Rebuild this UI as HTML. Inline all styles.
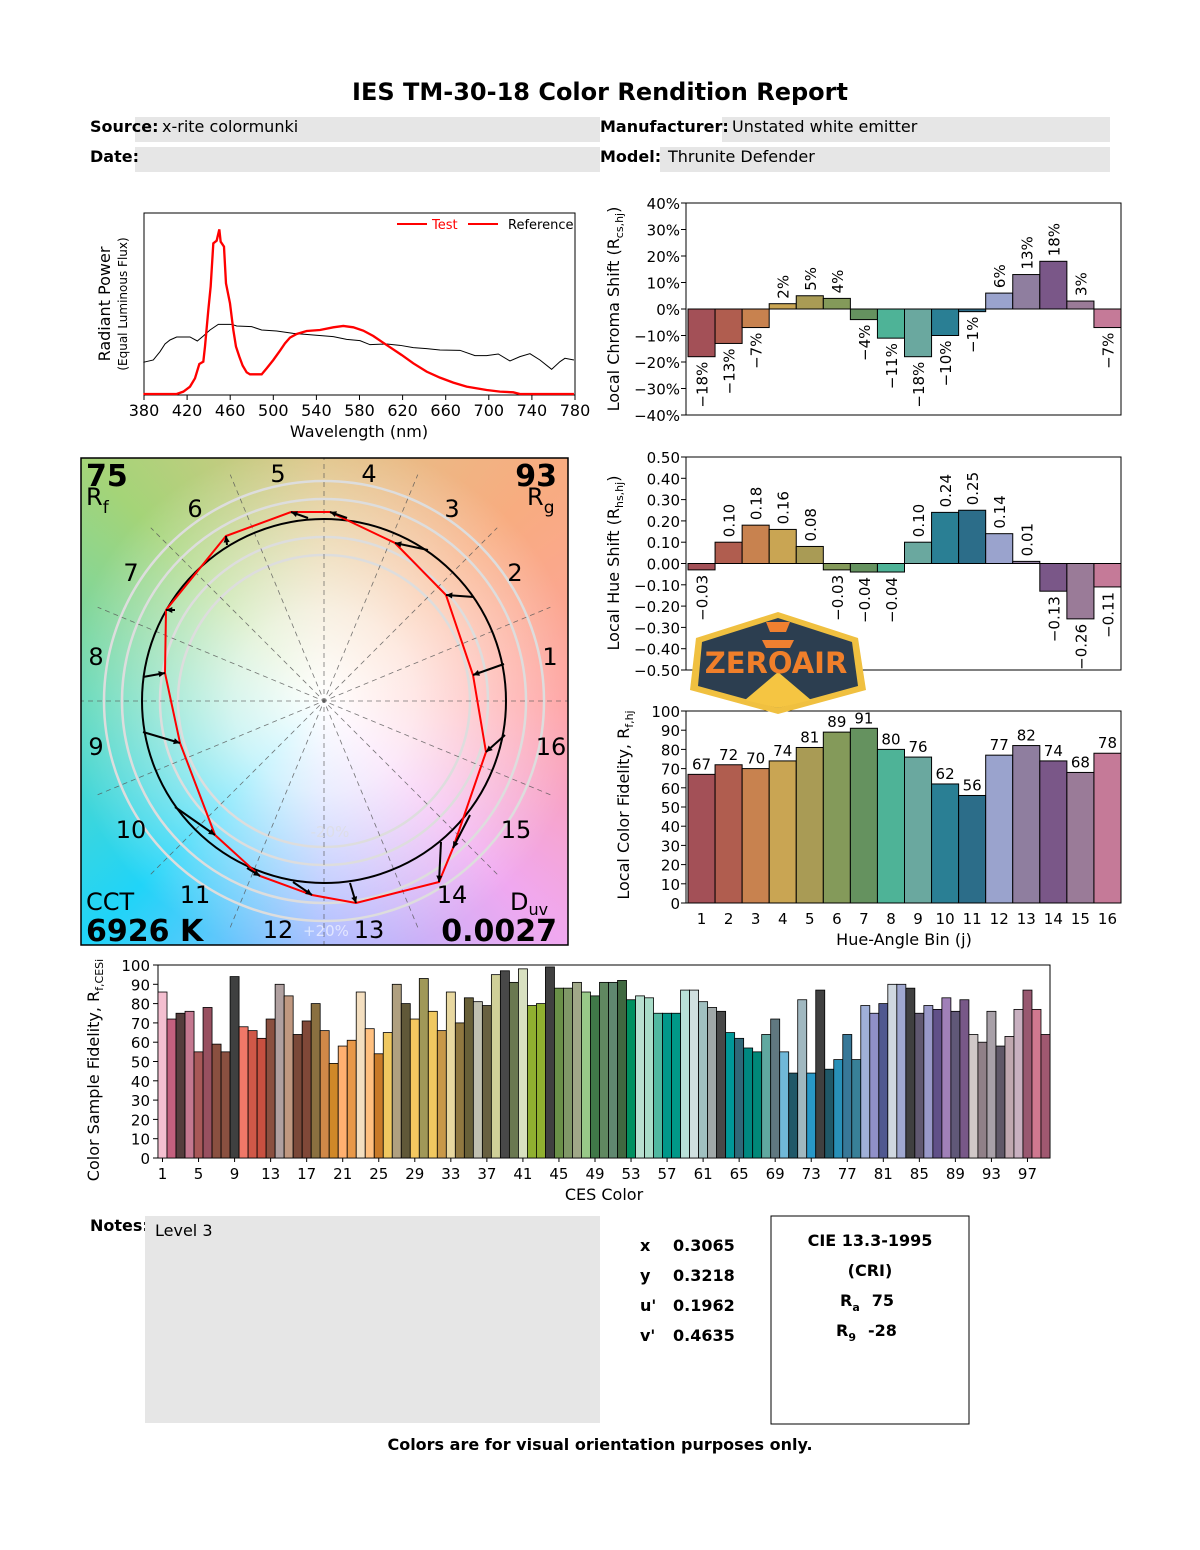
<!DOCTYPE html>
<html><head><meta charset="utf-8"><style>
body{margin:0;background:#fff;width:1200px;height:1550px;position:relative;overflow:hidden;font-family:"DejaVu Sans","Liberation Sans",sans-serif;color:#000}
</style></head><body>
<svg id="s" width="1200" height="1550" xmlns="http://www.w3.org/2000/svg" style="position:absolute;left:0;top:0;font-family:'DejaVu Sans','Liberation Sans',sans-serif">
<defs>
<clipPath id="vc"><rect x="81" y="458" width="487" height="487"/></clipPath>
<radialGradient id="wg" cx="324" cy="701" r="260" gradientUnits="userSpaceOnUse">
<stop offset="0" stop-color="#fff" stop-opacity="1"/><stop offset="0.35" stop-color="#fff" stop-opacity="0.75"/><stop offset="1" stop-color="#fff" stop-opacity="0"/></radialGradient>
</defs>
<text x="600" y="100" font-size="24" font-weight="bold" text-anchor="middle">IES TM-30-18 Color Rendition Report</text>
<rect x="135" y="117" width="465" height="25" fill="#e6e6e6"/>
<rect x="722" y="117" width="388" height="25" fill="#e6e6e6"/>
<rect x="135" y="147" width="465" height="25" fill="#e6e6e6"/>
<rect x="660" y="147" width="450" height="25" fill="#e6e6e6"/>
<text x="90" y="132" font-size="16" font-weight="bold">Source:</text>
<text x="162" y="132" font-size="16">x-rite colormunki</text>
<text x="600" y="132" font-size="16" font-weight="bold">Manufacturer:</text>
<text x="732" y="132" font-size="16">Unstated white emitter</text>
<text x="90" y="162" font-size="16" font-weight="bold">Date:</text>
<text x="600" y="162" font-size="16" font-weight="bold">Model:</text>
<text x="668" y="162" font-size="16">Thrunite Defender</text>

<!-- spectrum -->
<rect x="144" y="213" width="431" height="182" fill="none" stroke="#000" stroke-width="1"/>
<g transform="translate(80,200) scale(0.3333)" fill="none">
<path stroke="#000" stroke-width="3" d="M190,487 L220,480 240,455 255,432 270,420 290,411 330,411 352,423 370,408 390,390 415,373 455,373 470,378 515,380 545,390 590,393 640,400 700,405 760,410 800,418 840,422 870,434 920,432 960,436 1000,443 1040,446 1080,450 1140,451 1185,467 1220,467 1255,462 1290,483 1320,470 1350,461 1380,480 1415,508 1440,485 1455,475 1482,480"/>
<path stroke="#f00" stroke-width="7" d="M190,582 L290,582 310,575 330,560 345,535 358,492 370,485 375,440 385,330 392,260 400,130 410,122 418,88 422,125 432,140 438,250 450,310 460,390 468,440 478,470 488,497 500,517 510,523 545,523 560,505 580,480 600,452 615,430 630,413 650,402 680,393 720,390 760,382 790,378 820,382 850,392 880,408 905,425 935,445 965,465 1000,490 1040,515 1080,533 1120,548 1160,560 1220,570 1260,575 1300,577 1320,582 1482,582"/>
</g>
<line x1="397" y1="224" x2="427" y2="224" stroke="#f00" stroke-width="2"/>
<text x="432" y="229" font-size="13" fill="#f00">Test</text>
<line x1="468" y1="224" x2="498" y2="224" stroke="#f00" stroke-width="2"/>
<text x="508" y="229" font-size="13">Reference</text>
<g id="specx" font-size="16" text-anchor="middle"></g>
<text x="359" y="437" font-size="16" text-anchor="middle">Wavelength (nm)</text>
<text transform="translate(110,304) rotate(-90)" font-size="16" text-anchor="middle">Radiant Power</text>
<text transform="translate(127,304) rotate(-90)" font-size="12" text-anchor="middle">(Equal Luminous Flux)</text>

<!-- vector graphic -->
<foreignObject x="81" y="458" width="487" height="487"><div xmlns="http://www.w3.org/1999/xhtml" style="width:487px;height:487px;background:conic-gradient(from 0deg at 50% 50%,#e0c488 0deg,#f8ac80 45deg,#ffa0a0 90deg,#f0a8f0 135deg,#a8b8ff 180deg,#20d4f8 225deg,#60d8b8 270deg,#a4d478 315deg,#e0c488 360deg)"></div></foreignObject>
<rect x="81" y="458" width="487" height="487" fill="url(#wg)"/>
<g clip-path="url(#vc)" id="vg"></g>
<rect x="81" y="458" width="487" height="487" fill="none" stroke="#000" stroke-width="1.5"/>
<g font-size="24" text-anchor="middle" id="vlabels"></g>
<text x="86" y="486" font-size="30" font-weight="bold">75</text>
<text x="86" y="505" font-size="24">R<tspan font-size="17" dy="8">f</tspan></text>
<text x="557" y="486" font-size="30" font-weight="bold" text-anchor="end">93</text>
<text x="527" y="505" font-size="24">R<tspan font-size="17" dy="8">g</tspan></text>
<text x="86" y="910" font-size="24">CCT</text>
<text x="86" y="941" font-size="30" font-weight="bold">6926 K</text>
<text x="510" y="910" font-size="24">D<tspan font-size="16" dy="5">uv</tspan></text>
<text x="557" y="941" font-size="30" font-weight="bold" text-anchor="end">0.0027</text>
<text x="326" y="936" font-size="15" fill="#fff" fill-opacity="0.6" text-anchor="middle">+20%</text>
<text x="330" y="837" font-size="15" fill="#ddd" fill-opacity="0.7" text-anchor="middle">-20%</text>

<g id="charts"></g>

<!-- logo -->
<g>
<path d="M778,612 L858,638 L866,690 L778,714 L690,690 L696,638 Z" fill="#f0c040"/>
<path d="M778,618 L852,642 L858,686 L778,708 L698,686 L702,642 Z" fill="#2c3e50"/>
<path d="M745,700 L778,672 L811,700 L778,708 Z" fill="#f5c542"/>
<path d="M766,622 L790,622 L786,632 L770,632 Z M762,640 L794,640 L790,648 L766,648 Z" fill="#f08030"/>
<text x="776" y="673" font-size="29" font-weight="bold" fill="#f07f2a" text-anchor="middle" font-family="'DejaVu Sans',sans-serif">ZEROAIR</text>
</g>

<!-- notes -->
<text x="90" y="1231" font-size="16" font-weight="bold">Notes:</text>
<rect x="145" y="1216" width="455" height="207" fill="#e6e6e6"/>
<text x="155" y="1236" font-size="16">Level 3</text>
<g font-size="16" font-weight="bold">
<text x="640" y="1251">x</text><text x="673" y="1251">0.3065</text>
<text x="640" y="1281">y</text><text x="673" y="1281">0.3218</text>
<text x="640" y="1311">u'</text><text x="673" y="1311">0.1962</text>
<text x="640" y="1341">v'</text><text x="673" y="1341">0.4635</text>
</g>
<rect x="771" y="1216" width="198" height="208" fill="none" stroke="#000" stroke-width="1"/>
<g font-size="16" font-weight="bold" text-anchor="middle">
<text x="870" y="1246">CIE 13.3-1995</text>
<text x="870" y="1276">(CRI)</text>
</g>
<text x="840" y="1306" font-size="16" font-weight="bold">R<tspan font-size="11" dy="5">a</tspan><tspan dy="-5" dx="12">75</tspan></text>
<text x="836" y="1336" font-size="16" font-weight="bold">R<tspan font-size="11" dy="5">9</tspan><tspan dy="-5" dx="12">-28</tspan></text>
<text x="600" y="1450" font-size="16" font-weight="bold" text-anchor="middle">Colors are for visual orientation purposes only.</text>
</svg>
<script>
var NS="http://www.w3.org/2000/svg";
function el(p,t,a,txt){var e=document.createElementNS(NS,t);for(var k in a)e.setAttribute(k,a[k]);if(txt!==undefined)e.textContent=txt;p.appendChild(e);return e;}
var sx=document.getElementById('specx');
for(var nm=380;nm<=780;nm+=40){var x=144+(nm-380)*431/400;el(sx,'line',{x1:x,y1:395,x2:x,y2:400,stroke:'#000'});el(sx,'text',{x:x,y:416},''+nm);}
// vector graphic
var vg=document.getElementById('vg'),cx=324,cy=701;
[146,164,202,220].forEach(function(r){el(vg,'circle',{cx:cx,cy:cy,r:r,fill:'none',stroke:'#ddd','stroke-width':2.5});});
for(var i=0;i<8;i++){var a=i*22.5*Math.PI/180;var dx=Math.cos(a)*245,dy=Math.sin(a)*245;el(vg,'line',{x1:cx-dx,y1:cy+dy,x2:cx+dx,y2:cy-dy,stroke:'#555','stroke-width':0.8,'stroke-dasharray':'5,4','stroke-opacity':0.8});}
var ref=[[504,664],[474,597],[428,550],[347,518],[308,518],[227,545],[175,610],[143,677],[143,732],[175,807],[247,868],[293,882],[350,883],[441,842],[470,815],[505,735]];
var tst=[[473,675],[446,595],[395,543],[330,512],[291,512],[226,536],[166,610],[165,673],[180,743],[215,835],[260,876],[312,895],[356,903],[439,882],[453,848],[486,752]];
el(vg,'circle',{cx:cx,cy:cy,r:182,fill:'none',stroke:'#000','stroke-width':2});
el(vg,'polygon',{points:tst.map(function(p){return p.join(',')}).join(' '),fill:'none',stroke:'#f00','stroke-width':2});
for(var i=0;i<16;i++){var a=ref[i],b=tst[i];el(vg,'line',{x1:a[0],y1:a[1],x2:b[0],y2:b[1],stroke:'#000','stroke-width':2});
var ang=Math.atan2(b[1]-a[1],b[0]-a[0]),L=7;
var p1=[b[0]-L*Math.cos(ang-0.45),b[1]-L*Math.sin(ang-0.45)],p2=[b[0]-L*Math.cos(ang+0.45),b[1]-L*Math.sin(ang+0.45)];
el(vg,'polygon',{points:b.join(',')+' '+p1.join(',')+' '+p2.join(','),fill:'#000'});}
var vl=document.getElementById('vlabels');
var lp=[[550,665],[515,581],[452,517],[369,482],[278,482],[195,517],[131,581],[96,665],[96,755],[131,838],[195,903],[278,938],[369,938],[452,903],[516,838],[551,755]];
lp.forEach(function(p,i){el(vl,'text',{x:p[0],y:p[1]},''+(i+1));});
// bin charts
var ch=document.getElementById('charts');
var bc=['#a35057','#b05d4f','#c8824f','#c9a553','#a99b55','#849a5a','#65925f','#4eb397','#6aa89f','#2a7f94','#2c6d89','#9aa3cd','#8f7e9f','#7a5788','#9a7b98','#c57a98'];
var X0=688,X1=1121,BW=(X1-X0)/16;
function binChart(top,bot,zero,scale,vals,labels,ticks,tickfmt,rot,ylabel,ylabY){
 el(ch,'rect',{x:X0-2,y:top,width:X1-X0+2,height:bot-top,fill:'none',stroke:'#000','stroke-width':1});
 ticks.forEach(function(t){var y=zero-t*scale;el(ch,'line',{x1:X0-7,y1:y,x2:X0-2,y2:y,stroke:'#000'});el(ch,'text',{x:X0-8,y:y+6,'font-size':15,'text-anchor':'end'},tickfmt(t));});
 vals.forEach(function(v,i){var x=X0+i*BW,y=zero-v*scale;var yt=Math.min(y,zero),h=Math.abs(v*scale);
  el(ch,'rect',{x:x,y:yt,width:BW,height:Math.max(h,1),fill:bc[i],stroke:'#000','stroke-width':1});
  var cxm=x+BW/2;
  if(rot){ if(v>=0){el(ch,'text',{transform:'translate('+(cxm+6)+','+(y-5)+') rotate(-90)','font-size':15,'text-anchor':'start'},labels[i]);}
   else{el(ch,'text',{transform:'translate('+(cxm+6)+','+(y+5)+') rotate(-90)','font-size':15,'text-anchor':'end'},labels[i]);}}
  else{el(ch,'text',{x:cxm,y:y-5,'font-size':15,'text-anchor':'middle'},labels[i]);}
 });
 if(zero>top&&zero<bot)el(ch,'line',{x1:X0,y1:zero,x2:X1,y2:zero,stroke:'#000','stroke-width':1});
}
var cv=[-18,-13,-7,2,5,4,-4,-11,-18,-10,-1,6,13,18,3,-7];
binChart(203,415,309,2.65,cv,cv.map(function(v){return (v<0?'\u2212'+(-v):v)+'%'}),[-40,-30,-20,-10,0,10,20,30,40],function(t){return (t<0?'\u2212'+(-t):t)+'%'},true);
var hv=[-0.03,0.10,0.18,0.16,0.08,-0.03,-0.04,-0.04,0.10,0.24,0.25,0.14,0.01,-0.13,-0.26,-0.11];
function f2(v){return (v<0?'\u2212':'')+Math.abs(v).toFixed(2);}
binChart(457,670,563.5,213,hv,hv.map(f2),[-0.5,-0.4,-0.3,-0.2,-0.1,0,0.1,0.2,0.3,0.4,0.5],f2,true);
var fv=[67,72,70,74,81,89,91,80,76,62,56,77,82,74,68,78];
binChart(711,903,903,1.92,fv,fv.map(String),[0,10,20,30,40,50,60,70,80,90,100],String,false);
for(var i=0;i<16;i++){el(ch,'text',{x:X0+i*BW+BW/2,y:924,'font-size':15,'text-anchor':'middle'},''+(i+1));}
el(ch,'text',{x:904,y:945,'font-size':16,'text-anchor':'middle'},'Hue-Angle Bin (j)');
function ylab(x,y,main,sub,tail){var t=el(ch,'text',{transform:'translate('+x+','+y+') rotate(-90)','font-size':16,'text-anchor':'middle'},main);
 var s=el(t,'tspan',{'font-size':11,dy:4},sub);el(t,'tspan',{dy:-4},tail);}
ylab(619,309,'Local Chroma Shift (R','cs,hj',')');
ylab(619,563,'Local Hue Shift (R','hs,hj',')');
ylab(629,805,'Local Color Fidelity, R','f,hj','');
ylab(99,1070,'Color Sample Fidelity, R','f,CESi','');
// CES chart
var cesV=[86,72,75,76,55,78,59,55,94,68,66,62,72,90,84,64,71,80,66,49,58,61,86,67,54,65,90,80,72,93,76,66,86,70,83,81,79,95,97,91,98,79,80,99,88,88,91,86,84,91,91,92,82,84,83,75,75,75,87,87,81,78,76,65,62,57,55,64,72,55,44,82,44,87,46,51,64,51,79,75,80,90,90,88,75,79,77,83,76,82,64,60,76,58,63,77,87,77,64];
var cesC=['#f4bfd0','#c4607e','#553d3d','#c47890','#a85858','#985060','#8a5040','#8a5040','#3f4040','#f07868','#d05848','#c85040','#8a5040','#b0a0a0','#c09880','#7a4838','#804838','#8a7040','#d08848','#d08828','#ffb070','#e89848','#f4dfc0','#ffc080','#c87a28','#f0c860','#b0a080','#605838','#f4c860','#a09858','#f0c860','#c89848','#e8d8a0','#907840','#686038','#c0c0b0','#686040','#d0d098','#484848','#6a7850','#d8e0c0','#90b030','#90b030','#404040','#6a9048','#809868','#a0a888','#98c888','#407848','#608860','#608870','#406840','#009060','#b8e0d0','#a8dcc8','#50b8a0','#00988a','#009888','#b8e0d8','#d0e0e0','#a0c0c0','#a0a8a8','#484848','#009898','#306878','#008880','#008878','#60a8a0','#607880','#70b8d8','#205868','#a0b8c0','#2898c8','#404040','#205868','#2890b8','#387898','#388098','#a0b0d8','#9090c8','#505890','#d0d8e0','#a0a8d0','#404040','#605870','#9898c8','#605088','#a080b8','#605878','#785888','#d0c8c8','#908088','#a8a0a8','#605868','#c0a8b0','#c8b0c0','#985870','#d07890','#a05870'];
var CX0=158,CX1=1050,CW=(CX1-CX0)/99,CZ=1158,CS=1.93;
el(ch,'rect',{x:CX0,y:965,width:CX1-CX0,height:CZ-965,fill:'none',stroke:'#000'});
for(var t=0;t<=100;t+=10){var y=CZ-t*CS;el(ch,'line',{x1:CX0-5,y1:y,x2:CX0,y2:y,stroke:'#000'});el(ch,'text',{x:CX0-8,y:y+6,'font-size':15,'text-anchor':'end'},''+t);}
cesV.forEach(function(v,i){el(ch,'rect',{x:CX0+i*CW,y:CZ-v*CS,width:CW,height:v*CS,fill:cesC[i],stroke:'#000','stroke-width':0.8});});
for(var i=0;i<99;i+=4){var x=CX0+i*CW+CW/2;el(ch,'line',{x1:x,y1:CZ,x2:x,y2:CZ+4,stroke:'#000'});el(ch,'text',{x:x,y:CZ+21,'font-size':15,'text-anchor':'middle'},''+(i+1));}
el(ch,'text',{x:604,y:1200,'font-size':16,'text-anchor':'middle'},'CES Color');
</script>
</body></html>
